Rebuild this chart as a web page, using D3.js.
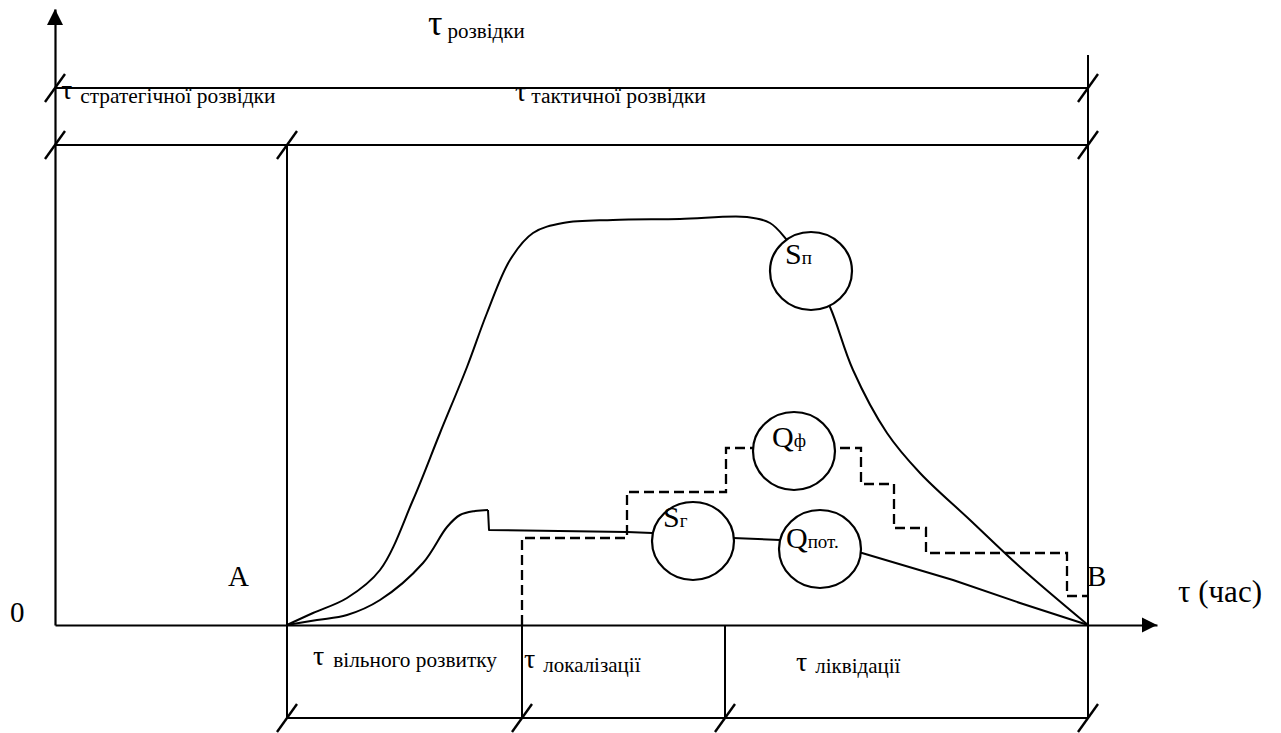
<!DOCTYPE html>
<html>
<head>
<meta charset="utf-8">
<script src="https://cdn.jsdelivr.net/npm/d3@7"></script>
<style>
  body { margin: 0; background: #fff; }
  svg { display: block; }
  text { font-family: "Liberation Serif", "Times New Roman", serif; fill: #000; }
</style>
</head>
<body>
<svg id="chart" width="1281" height="733"></svg>
<script>
// Time axis: start of reconnaissance, point A, start of localisation,
// start of liquidation, point B
const phaseBounds = [0, 232, 467, 670, 1033];
const phaseNames = ["вільного розвитку", "локалізації", "ліквідації"];

// Levels of the reconnaissance bands above the plot and the phase band below it
const bandLevels = { recon: 537, tactical: 480, phases: -93, rightTop: 570 };

// Fire area S_п: rise, plateau, decline to B
const areaFire = [
  [232, 0], [258, 12], [292, 27], [325, 55], [358, 125], [385, 192],
  [412, 258], [432, 312], [455, 365], [478, 392], [508, 402], [558, 405],
  [625, 406], [692, 408], [715, 402], [732, 385], [756, 354], [775, 318],
  [798, 255], [832, 192], [865, 152], [915, 105], [965, 58], [1033, 0]
];

// Burning area S_г: free growth, then localised level falling to B
const areaBurnRise = [
  [232, 0], [262, 5], [292, 10], [325, 25], [368, 62], [392, 98],
  [405, 110], [420, 114], [433, 115]
];
const areaBurnLocal = [
  [433, 115], [434, 95], [572, 93], [597, 92], [678, 87], [725, 85],
  [807, 72], [898, 45], [965, 22], [1033, 0]
];

// Actual extinguishing agent supply Q_ф (step function)
const supplyActual = [
  [467, 0], [467, 87], [572, 133], [671, 177], [806, 141],
  [839, 97], [871, 72], [1012, 29], [1033, 29]
];

// Node circles on the curves
const nodes = [
  { sym: "S", sub: "п",    t: 756, v: 354 },
  { sym: "Q", sub: "ф",    t: 739, v: 174 },
  { sym: "S", sub: "г",    t: 638, v: 84 },
  { sym: "Q", sub: "пот.", t: 765, v: 76 }
];

const svg = d3.select("#chart");
const x = d3.scaleLinear().domain([0, 1102]).range([55, 1157]);
const y = d3.scaleLinear().domain([0, 616]).range([625, 9]);

const ink = "#000";
const lineW = 2;

// ---- axes ----
const gx = svg.append("g").attr("transform", `translate(0,${y(0)})`)
  .call(d3.axisBottom(x).tickValues([]).tickSizeOuter(0));
const gy = svg.append("g").attr("transform", `translate(${x(0)},0)`)
  .call(d3.axisLeft(y).tickValues([]).tickSizeOuter(0));
[gx, gy].forEach(g => g.select(".domain").attr("stroke", ink).attr("stroke-width", 2.2));

// arrowheads
const xEnd = x.range()[1], yEnd = y.range()[1];
svg.append("path")
  .attr("d", `M${xEnd},${y(0)} L${xEnd - 15},${y(0) - 7.5} L${xEnd - 15},${y(0) + 7.5} Z`)
  .attr("fill", ink);
svg.append("path")
  .attr("d", `M${x(0)},${yEnd} L${x(0) - 8},${yEnd + 16} L${x(0) + 8},${yEnd + 16} Z`)
  .attr("fill", ink);

// ---- band frame ----
const frame = svg.append("g").attr("stroke", ink).attr("stroke-width", lineW).attr("fill", "none");
const hLine = (t0, t1, v) => frame.append("line")
  .attr("x1", x(t0)).attr("x2", x(t1)).attr("y1", y(v)).attr("y2", y(v));
const vLine = (t, v0, v1) => frame.append("line")
  .attr("x1", x(t)).attr("x2", x(t)).attr("y1", y(v0)).attr("y2", y(v1));

const tStart = phaseBounds[0], tA = phaseBounds[1], tB = phaseBounds[4];
hLine(tStart, tB, bandLevels.recon);
hLine(tStart, tB, bandLevels.tactical);
hLine(tA, tB, bandLevels.phases);
vLine(tA, bandLevels.tactical, bandLevels.phases);
vLine(tB, bandLevels.rightTop, bandLevels.phases);
vLine(phaseBounds[2], 0, bandLevels.phases);
vLine(phaseBounds[3], 0, bandLevels.phases);

// boundary slashes
const slashes = [
  [tStart, bandLevels.recon], [tB, bandLevels.recon],
  [tStart, bandLevels.tactical], [tA, bandLevels.tactical], [tB, bandLevels.tactical],
  ...phaseBounds.slice(1).map(t => [t, bandLevels.phases])
];
svg.append("g").selectAll("line").data(slashes).join("line")
  .attr("x1", d => x(d[0]) - 10).attr("y1", d => y(d[1]) + 14)
  .attr("x2", d => x(d[0]) + 10).attr("y2", d => y(d[1]) - 14)
  .attr("stroke", ink).attr("stroke-width", 2.4);

// ---- curves ----
const smooth = d3.line().x(d => x(d[0])).y(d => y(d[1])).curve(d3.curveCatmullRom.alpha(0.5));
const straight = d3.line().x(d => x(d[0])).y(d => y(d[1]));
const stepped = d3.line().x(d => x(d[0])).y(d => y(d[1])).curve(d3.curveStepAfter);

const curves = svg.append("g").attr("fill", "none").attr("stroke", ink)
  .attr("stroke-width", lineW).attr("stroke-linejoin", "round");
curves.append("path").attr("d", smooth(areaFire));
curves.append("path").attr("d", smooth(areaBurnRise));
curves.append("path").attr("d", straight(areaBurnLocal));
curves.append("path").attr("d", stepped(supplyActual))
  .attr("stroke-width", 2.3).attr("stroke-dasharray", "10,5").attr("stroke-linejoin", "miter");

// ---- node circles ----
const labelShift = { "Sп": [-26, -7], "Qф": [-22, -4], "Sг": [-30, -14], "Qпот.": [-34, -1] };
const ng = svg.append("g").selectAll("g").data(nodes).join("g")
  .attr("transform", d => `translate(${x(d.t)},${y(d.v)})`);
ng.append("ellipse").attr("rx", 41).attr("ry", 39)
  .attr("fill", "#fff").attr("stroke", ink).attr("stroke-width", 2.2);
const nt = ng.append("text")
  .attr("x", d => labelShift[d.sym + d.sub][0])
  .attr("y", d => labelShift[d.sym + d.sub][1]);
nt.append("tspan").attr("font-size", 30).text(d => d.sym);
nt.append("tspan").attr("font-size", 19).text(d => d.sub);

// ---- labels ----
function tauLabel(tx, ty, tauSize, name, nameSize, gap, nameDy) {
  const t = svg.append("text").attr("x", tx).attr("y", ty);
  t.append("tspan").attr("font-size", tauSize).text("τ");
  t.append("tspan").attr("font-size", nameSize).attr("dx", gap).attr("dy", nameDy).text(name);
}
tauLabel(x(373), 35, 36, "розвідки", 21, 5, 3);
tauLabel(x(6), 99, 28, "стратегічної розвідки", 21.4, 8, 4);
tauLabel(x(460), 101, 28, "тактичної розвідки", 21.6, 5, 2);
tauLabel(x(258), 665, 28, phaseNames[0], 21.3, 9, 2);
tauLabel(x(469), 668, 28, phaseNames[1], 21, 8, 4);
tauLabel(x(741), 671, 28, phaseNames[2], 21, 8, 2);

svg.append("text").attr("x", x(-45)).attr("y", 622).attr("font-size", 29).text("0");
svg.append("text").attr("x", x(173)).attr("y", 586).attr("font-size", 29).text("A");
svg.append("text").attr("x", x(tB) - 1).attr("y", 586).attr("font-size", 29).text("B");
svg.append("text").attr("x", 1178).attr("y", 602).attr("font-size", 31).text("τ (час)");
</script>
</body>
</html>
